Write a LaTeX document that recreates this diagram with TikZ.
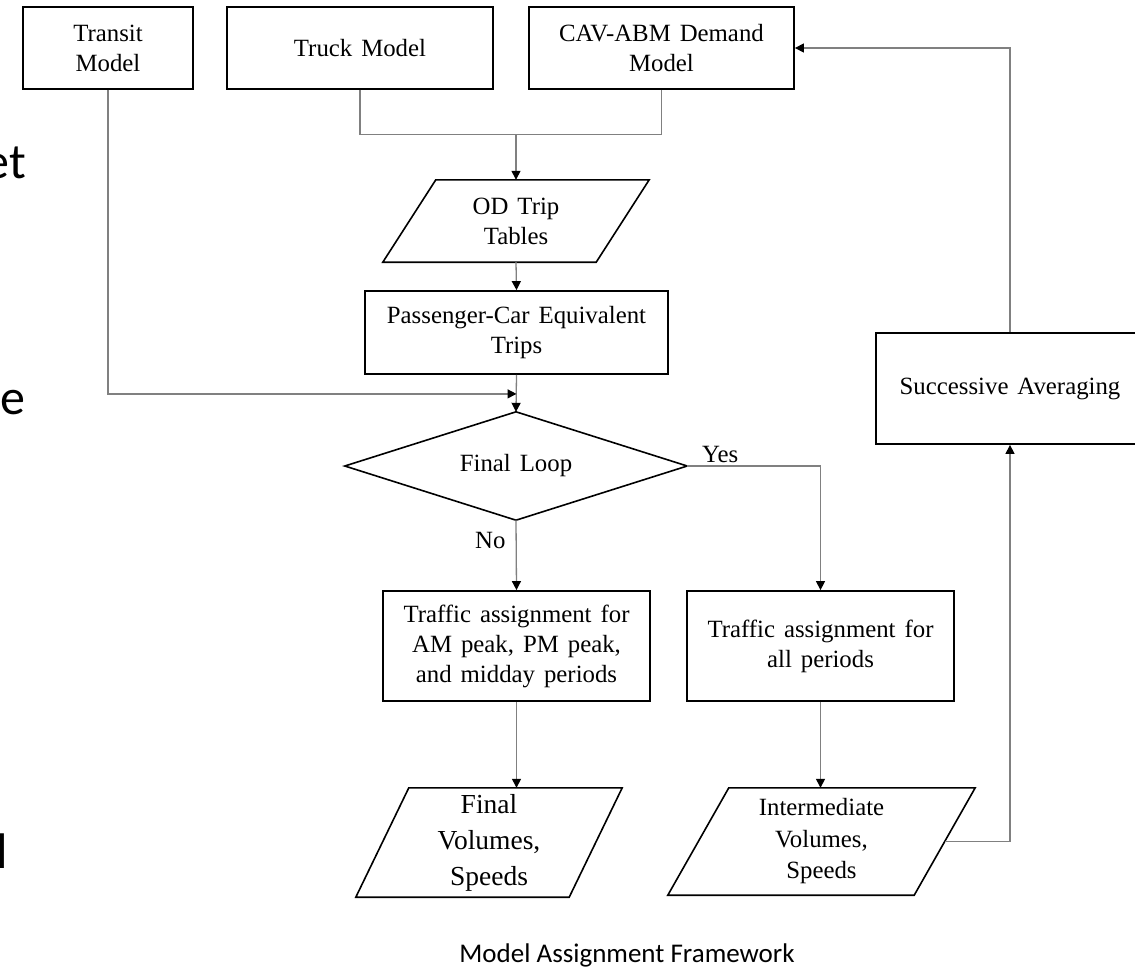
\documentclass[tikz,border=0pt]{standalone}
\usepackage{fontspec}
\setmainfont{Liberation Serif}[WordSpace=1.45]
\newfontfamily\slidefont{Carlito}
\usetikzlibrary{arrows.meta,calc}

\begin{document}
\begin{tikzpicture}[x=1pt,y=-1pt,
  txt/.style={font=\fontsize{24.8}{30}\selectfont, align=center, inner sep=0pt},
  box/.style={txt, draw=black, line width=1.8pt},
  shaped/.style={txt},
  outline/.style={draw=black, line width=1.6pt, line join=miter},
  link/.style={draw=black!50, line width=1.3pt},
  arr/.style={link, -{Triangle[length=9pt,width=9pt,color=black]}},
  lbl/.style={font=\fontsize{24.8}{30}\selectfont, inner sep=0pt, anchor=base west},
  slide/.style={font=\slidefont\fontsize{50}{60}\selectfont, inner sep=0pt}]
\useasboundingbox (0,0) rectangle (1135,967);
\clip (0,0) rectangle (1135,967);

% fragments of the slide text behind the chart
\node[slide, anchor=base east] (s1) at (26,178) {et};
\node[slide, anchor=base east] (s2) at (26,414) {e};
\node[slide, anchor=base west] (s3) at (-3.5,868) {l};

% model inputs
\node[box, minimum width=170pt, minimum height=82pt] (transit) at (108,48) {Transit\\Model};
\node[box, minimum width=266pt, minimum height=82pt] (truck) at (360,48) {Truck Model};
\node[box, minimum width=265pt, minimum height=82pt] (cav) at (661.5,48) {CAV-ABM Demand\\Model};

% trip tables and conversion
\node[shaped, minimum width=266pt, minimum height=82pt] (od) at (516,221) {OD Trip\\Tables};
\node[box, minimum width=303pt, minimum height=83pt] (pce) at (516.5,332.5) {Passenger-Car Equivalent\\Trips};

% loop test (diamond drawn through the node's side midpoints)
\node[shaped, minimum width=342pt, minimum height=108pt] (loop) at (516,466) {Final Loop};
\draw[outline] (loop.north) -- (loop.east) -- (loop.south) -- (loop.west) -- cycle;

% assignment steps
\node[box, minimum width=267pt, minimum height=110pt] (lbox) at (516.5,646)
  {Traffic assignment for\\AM peak, PM peak,\\and midday periods};
\node[box, minimum width=267pt, minimum height=110pt] (rbox) at (820.5,646)
  {Traffic assignment for\\all periods};

% outputs
\node[shaped, minimum width=266pt, minimum height=109pt,
      font=\fontsize{27.5}{36}\selectfont] (fin) at (489,842.5) {Final\\Volumes,\\Speeds};
\node[shaped, minimum width=307pt, minimum height=107pt,
      font=\fontsize{24.8}{31.5}\selectfont] (inter) at (821.5,841.5) {Intermediate\\Volumes,\\Speeds};

% feedback
\node[box, minimum width=268pt, minimum height=111pt] (sa) at (1010,388.5) {Successive Averaging};

% parallelogram outlines
\foreach \n/\s in {od/53, fin/53, inter/61}
  \draw[outline] ($(\n.north west)+(\s,0)$) -- (\n.north east)
     -- ($(\n.south east)-(\s,0)$) -- (\n.south west) -- cycle;

% connectors
\path (od.north) ++(0,-45) coordinate (j);
\draw[link] (truck.south) -- (truck.south |- j) -- (cav.south |- j) -- (cav.south);
\draw[arr] (j) -- (od.north);
\draw[arr] (od.south) -- (pce.north);
\draw[arr] (pce.south) -- (loop.north);
\path (pce.south) ++(0,19) coordinate (t);
\draw[arr] (transit.south) |- (t);
\draw[arr] (loop.east) -| (rbox.north);
\draw[arr] (loop.south) -- (lbox.north);
\draw[arr] (lbox.south) -- (lbox.south |- fin.north);
\draw[arr] (rbox.south) -- (rbox.south |- inter.north);
\coordinate (out) at ($(inter.east)+(-30,0)$);
\draw[arr] (out) -| (sa.south);
\draw[arr] (sa.north) |- (cav.east);

% branch labels
\node[lbl] (yes) at (702,462) {Yes};
\node[lbl] (no) at (475,548) {No};

% caption
\node[font=\slidefont\fontsize{27}{32}\selectfont, inner sep=0pt, anchor=base] (cap)
  at (627,962) {Model Assignment Framework};
\end{tikzpicture}
\end{document}
